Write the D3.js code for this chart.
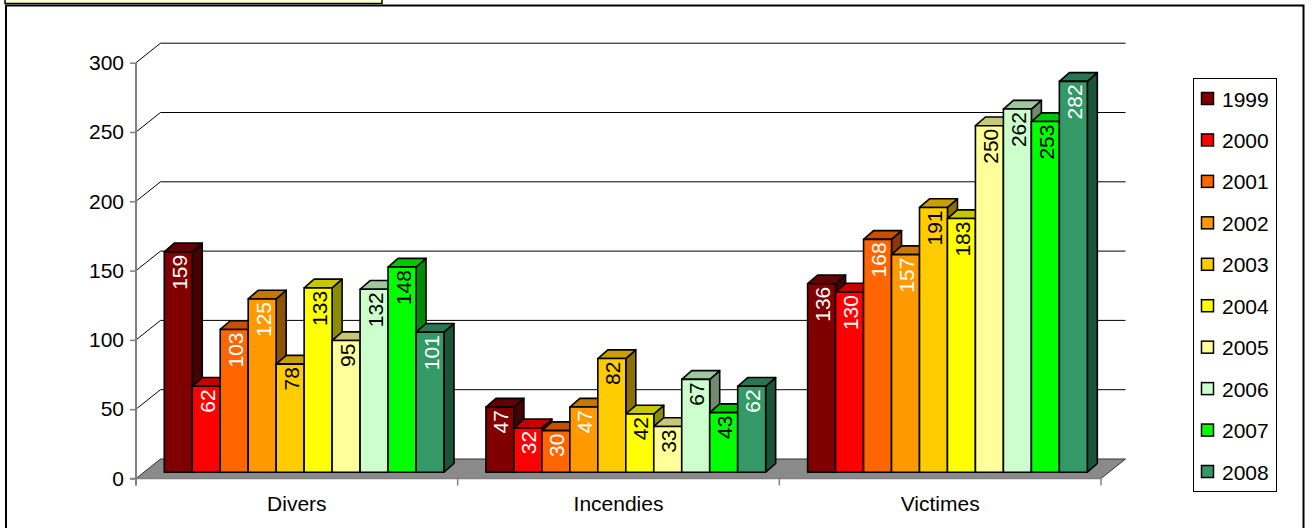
<!DOCTYPE html>
<html>
<head>
<meta charset="utf-8">
<script src="https://cdn.jsdelivr.net/npm/d3@7"></script>
<style>
  html, body { margin: 0; padding: 0; background: #fff; }
  svg { display: block; font-family: "Liberation Sans", Arial, sans-serif; }
</style>
</head>
<body>
<svg id="chart" width="1311" height="528"></svg>
<script>
const categories = ["Divers", "Incendies", "Victimes"];
const years = ["1999", "2000", "2001", "2002", "2003", "2004", "2005", "2006", "2007", "2008"];
const divers    = [159, 62, 103, 125, 78, 133, 95, 132, 148, 101];
const incendies = [47, 32, 30, 47, 82, 42, 33, 67, 43, 62];
const victimes  = [136, 130, 168, 157, 191, 183, 250, 262, 253, 282];
const yTicks = [0, 50, 100, 150, 200, 250, 300];

const colors = ["#800000", "#ff0000", "#ff6600", "#ff9900", "#ffcc00",
                "#ffff00", "#ffff99", "#ccffcc", "#00ff00", "#339966"];
const labelColors = ["#fff", "#fff", "#fff", "#fff", "#000",
                     "#000", "#000", "#000", "#000", "#fff"];

const rows = [divers, incendies, victimes];

// oblique 3d offsets (screen px)
const WALL = { dx: 24.5, dy: -19.5 };
const BAR = { ox: 7.3, oy: -6.3, dx: 10, dy: -8.7 };

const svg = d3.select("#chart");

const x0 = d3.scaleBand().domain(categories).range([136, 1101]);
const x1 = d3.scaleBand().domain(years).range([0, x0.bandwidth()]).paddingOuter(0.75);
const y = d3.scaleLinear().domain([0, 300]).range([478.5, 62.7]);

function shade(c, k) {
  const r = d3.rgb(c);
  return d3.rgb(r.r * k, r.g * k, r.b * k).formatHex();
}

// frame + title box stub
svg.append("rect").attr("x", 6).attr("y", 5.5).attr("width", 1297.5).attr("height", 540)
  .attr("fill", "#fff").attr("stroke", "#000").attr("stroke-width", 2);
svg.append("rect").attr("x", 5).attr("y", -10).attr("width", 377).attr("height", 13.5)
  .attr("fill", "#ffffcc").attr("stroke", "#000").attr("stroke-width", 1.5);

// back wall gridlines
const x0end = x0.range()[1];
yTicks.filter((t) => t > 0).forEach((t) => {
  const yy = y(t);
  svg.append("line").attr("x1", 136).attr("y1", yy)
    .attr("x2", 136 + WALL.dx).attr("y2", yy + WALL.dy)
    .attr("stroke", "#000").attr("stroke-width", 1);
  svg.append("line").attr("x1", 136 + WALL.dx).attr("y1", yy + WALL.dy)
    .attr("x2", x0end + WALL.dx).attr("y2", yy + WALL.dy)
    .attr("stroke", "#000").attr("stroke-width", 1);
});

// floor
const y0 = y(0);
svg.append("path")
  .attr("d", `M136,${y0} L${x0end},${y0} L${x0end + WALL.dx},${y0 + WALL.dy} L${136 + WALL.dx},${y0 + WALL.dy} Z`)
  .attr("fill", "#8a8a8a").attr("stroke", "#333").attr("stroke-width", 1);

// bars
const bars = [];
categories.forEach((cat, ci) => {
  years.forEach((yr, si) => {
    bars.push({ cat, yr, si, v: rows[ci][si] });
  });
});

const w = x1.bandwidth();
bars.forEach((b) => {
  const x = x0(b.cat) + x1(b.yr) + BAR.ox;
  const yt = y(b.v) + BAR.oy;
  const yb = y(0) + BAR.oy;
  const c = colors[b.si];
  const g = svg.append("g").attr("stroke", "#000").attr("stroke-width", 1.6)
    .attr("stroke-linejoin", "round");
  g.append("path")
    .attr("d", `M${x + w},${yt} L${x + w + BAR.dx},${yt + BAR.dy} L${x + w + BAR.dx},${yb + BAR.dy} L${x + w},${yb} Z`)
    .attr("fill", shade(c, 0.55));
  g.append("path")
    .attr("d", `M${x},${yt} L${x + BAR.dx},${yt + BAR.dy} L${x + w + BAR.dx},${yt + BAR.dy} L${x + w},${yt} Z`)
    .attr("fill", shade(c, 0.78));
  g.append("rect").attr("x", x).attr("y", yt).attr("width", w).attr("height", yb - yt)
    .attr("fill", c);
  b.cx = x + w / 2;
  b.top = yt;
});

// value labels
bars.forEach((b) => {
  svg.append("text")
    .attr("transform", `translate(${b.cx + 1},${b.top + 3}) rotate(-90)`)
    .attr("text-anchor", "end").attr("dominant-baseline", "central")
    .attr("font-size", 21).attr("fill", labelColors[b.si])
    .text(b.v);
});

// value axis
const yAxis = svg.append("g").attr("transform", "translate(136,0)")
  .call(d3.axisLeft(y).tickValues(yTicks).tickSize(6).tickSizeOuter(0).tickPadding(6));
yAxis.select(".domain").remove();
yAxis.selectAll(".tick line").attr("stroke", "#808080").attr("stroke-width", 1.5);
yAxis.selectAll(".tick text").attr("font-size", 21).attr("font-family", "Liberation Sans, Arial, sans-serif")
  .attr("fill", "#000");
svg.append("line").attr("x1", 136).attr("y1", y(300)).attr("x2", 136).attr("y2", y(0) + 7)
  .attr("stroke", "#808080").attr("stroke-width", 2);

// category axis
svg.append("line").attr("x1", 130).attr("y1", y0).attr("x2", x0end).attr("y2", y0)
  .attr("stroke", "#808080").attr("stroke-width", 1.5);
categories.map((c) => x0(c)).concat([x0end]).forEach((xx) => {
  svg.append("line").attr("x1", xx).attr("y1", y0).attr("x2", xx).attr("y2", y0 + 7)
    .attr("stroke", "#808080").attr("stroke-width", 1.5);
});
const xAxis = svg.append("g").attr("transform", `translate(0,${y0})`)
  .call(d3.axisBottom(x0).tickSize(0).tickPadding(18));
xAxis.select(".domain").remove();
xAxis.selectAll(".tick text").attr("font-size", 21).attr("font-family", "Liberation Sans, Arial, sans-serif")
  .attr("fill", "#000");

// legend
const ly = d3.scalePoint().domain(years).range([99, 472]);
svg.append("rect").attr("x", 1193.5).attr("y", 78.5).attr("width", 83).attr("height", 413)
  .attr("fill", "#fff").attr("stroke", "#000").attr("stroke-width", 1);
years.forEach((yr, i) => {
  svg.append("rect").attr("x", 1201.5).attr("y", ly(yr) - 6.5).attr("width", 12).attr("height", 12)
    .attr("fill", colors[i]).attr("stroke", "#000").attr("stroke-width", 1.5);
  svg.append("text").attr("x", 1222).attr("y", ly(yr)).attr("dominant-baseline", "central")
    .attr("font-size", 21).attr("fill", "#000").text(yr);
});
</script>
</body>
</html>
